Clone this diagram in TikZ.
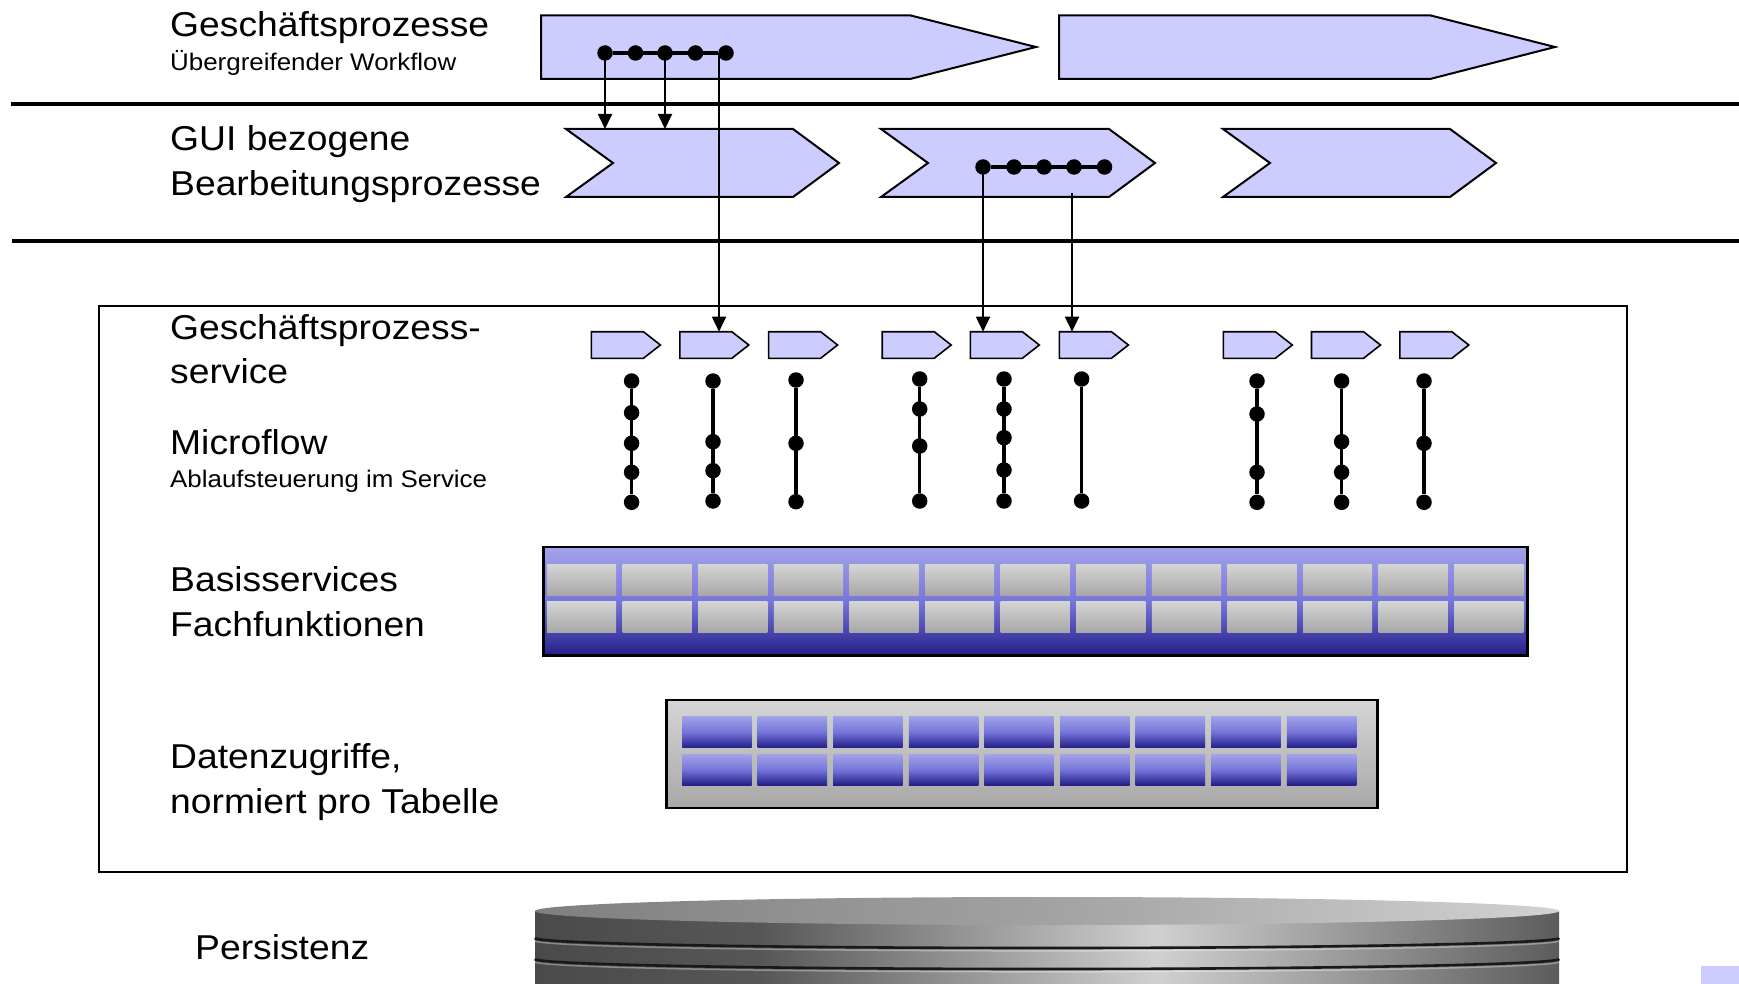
\documentclass[tikz,border=0pt]{standalone}
\usepackage{fontspec}
\newfontfamily\labelfont[FakeStretch=1.08]{Liberation Sans}
\usetikzlibrary{arrows.meta}

\definecolor{procfill}{HTML}{CCCCFF}
\definecolor{bsTop}{HTML}{A3A3E9}
\definecolor{bsMid}{HTML}{7676DA}
\definecolor{bsBot}{HTML}{231E88}
\definecolor{grTop}{HTML}{D5D5D5}
\definecolor{grBot}{HTML}{A8A8A8}
\definecolor{diskA}{HTML}{4A4A4A}
\definecolor{diskB}{HTML}{575757}
\definecolor{diskC}{HTML}{D0D0D0}
\definecolor{diskD}{HTML}{5C5C5C}
\definecolor{faceL}{HTML}{7F7F7F}
\definecolor{faceM}{HTML}{A2A2A2}
\definecolor{faceR}{HTML}{D2D2D2}

\begin{document}
\begin{tikzpicture}[x=1pt,y=-1pt,
  biglabel/.style={font=\labelfont\fontsize{34.5}{40}\selectfont, anchor=base west, inner sep=0pt},
  smalllabel/.style={font=\labelfont\fontsize{24}{28}\selectfont, anchor=base west, inner sep=0pt},
  proc/.style={draw=black, line width=2pt, fill=procfill, line join=miter},
  svc/.style={draw=black, line width=1.6pt, fill=procfill, line join=miter},
  dot/.style={circle, fill=black, inner sep=0pt, minimum size=15.5pt},
  chainline/.style={line width=3.5pt},
  link/.style={line width=1.8pt, -{Triangle[width=14pt,length=15pt]}},
  layerline/.style={line width=4pt},
  bluebox/.style={draw=black, line width=2.5pt, top color=bsTop, bottom color=bsBot, middle color=bsMid},
  graybox/.style={draw=black, line width=2.5pt, top color=grTop, bottom color=grBot},
  graycell/.style={top color=grTop, bottom color=grBot},
  bluecell/.style={top color=bsTop, bottom color=bsBot, middle color=bsMid}
]
\useasboundingbox (0,0) rectangle (1739,984);
\clip (0,0) rectangle (1739,984);
\fill[white] (0,0) rectangle (1739,984);

% small corner tile
\fill[procfill] (1701,966) rectangle (1739,984);

% persistence disk stack
\path[left color=diskA, right color=diskB] (535,911) rectangle (762,992);
\path[left color=diskB, right color=diskC] (761,911) rectangle (1157,992);
\path[left color=diskC, right color=diskD] (1156,911) rectangle (1559,992);
\foreach \yy in {938,959} {
  \draw[white, opacity=0.35, line width=1.5pt]
    plot[domain=180:360, samples=90, smooth] ({1047+512*cos(\x)}, {\yy+2.8-10*sin(\x)});
  \draw[black!90, line width=2.6pt]
    plot[domain=180:360, samples=90, smooth] ({1047+512*cos(\x)}, {\yy-10*sin(\x)});
}
\path[left color=faceL, right color=faceR, middle color=faceM]
  (1047,911) ellipse [x radius=512pt, y radius=14pt];

% service layer frame
\draw[line width=2pt] (99,306) rectangle (1627,872);

% layer separators
\draw[layerline] (11,104) -- (1739,104);
\draw[layerline] (12,241) -- (1739,241);

% business processes
\draw[proc] (541,15.3) -- (910,15.3) -- (1036,47) -- (910,79) -- (541,79) -- cycle;
\draw[proc] (1059,15.3) -- (1430,15.3) -- (1555,47) -- (1430,79) -- (1059,79) -- cycle;

% GUI processes
\draw[proc] (566,129) -- (793,129) -- (839,163) -- (793,197) -- (566,197) -- (613,163) -- cycle;
\draw[proc] (881,129) -- (1109,129) -- (1155,163) -- (1109,197) -- (881,197) -- (928,163) -- cycle;
\draw[proc] (1223,129) -- (1450,129) -- (1496,163) -- (1450,197) -- (1223,197) -- (1270,163) -- cycle;
\coordinate (g1) at (0,129);

% business process services
\foreach \n/\sx in {1/591.4, 2/679.8, 3/768.6, 4/882.2, 5/970.3, 6/1059.4, 7/1223.3, 8/1311.5, 9/1399.8} {
  \draw[svc] (\sx,331.7) -- ++(52,0) -- ++(17,13.3) -- ++(-17,13.3) -- ++(-52,0) -- cycle;
  \coordinate (s\n) at (\sx,331.7);
}

% workflow steps
\foreach \xx [count=\i] in {605,635.5,665,695.5,726}
  \node[dot] (p\i) at (\xx,53) {};
\draw[chainline] (p1) -- (p5);
\foreach \xx [count=\i] in {983,1014,1044,1074,1104.5}
  \node[dot] (c\i) at (\xx,167) {};
\draw[chainline] (c1) -- (c5);
\coordinate (p5l) at (719,53);
\coordinate (c4low) at (1072,193);

% microflows
\foreach \y [count=\i] in {381,412.7,443.3,472.3,502.3} \node[dot] (ma\i) at (631.6,\y) {};
\draw[chainline] (ma1) -- (ma5);
\foreach \y [count=\i] in {381,441.7,470.7,501} \node[dot] (mb\i) at (713,\y) {};
\draw[chainline] (mb1) -- (mb4);
\foreach \y [count=\i] in {380,443.3,501.7} \node[dot] (mc\i) at (796,\y) {};
\draw[chainline] (mc1) -- (mc3);
\foreach \y [count=\i] in {379,409,446,501} \node[dot] (md\i) at (919.7,\y) {};
\draw[chainline] (md1) -- (md4);
\foreach \y [count=\i] in {379,409,437.7,470,501} \node[dot] (me\i) at (1004,\y) {};
\draw[chainline] (me1) -- (me5);
\foreach \y [count=\i] in {379,501} \node[dot] (mf\i) at (1081.6,\y) {};
\draw[chainline] (mf1) -- (mf2);
\foreach \y [count=\i] in {381,414,472.3,502.3} \node[dot] (mg\i) at (1257,\y) {};
\draw[chainline] (mg1) -- (mg4);
\foreach \y [count=\i] in {381,441.7,472.3,502.3} \node[dot] (mh\i) at (1341.6,\y) {};
\draw[chainline] (mh1) -- (mh4);
\foreach \y [count=\i] in {381,443.3,502.3} \node[dot] (mi\i) at (1424,\y) {};
\draw[chainline] (mi1) -- (mi3);

% calls between the layers
\draw[link] (p1.center) -- (p1 |- g1);
\draw[link] (p3.center) -- (p3 |- g1);
\draw[link] (p5l) -- (p5l |- s2);
\draw[link] (c1.center) -- (c1 |- s5);
\draw[link] (c4low) -- (c4low |- s6);

% basic services
\draw[bluebox] (543.4,547) rectangle (1527.5,655.5);
\foreach \k in {0,...,12} {
  \path[graycell] (547+75.6*\k,564) rectangle ++(69.2,31);
  \path[graycell] (547+75.6*\k,601) rectangle ++(69.2,31);
}

% data access
\draw[graybox] (666.6,700) rectangle (1377.5,808);
\foreach \k in {0,...,8} {
  \path[bluecell] (682+75.6*\k,716) rectangle ++(69.5,31.7);
  \path[bluecell] (682+75.6*\k,754) rectangle ++(69.5,31);
}

% layer names
\node[biglabel] (t1) at (170,37) {Geschäftsprozesse};
\node[smalllabel] (t1b) at (170,71) {Übergreifender Workflow};
\node[biglabel] (t2) at (170,151) {GUI bezogene};
\node[biglabel] (t2b) at (170,196) {Bearbeitungsprozesse};
\node[biglabel] (t3) at (170,339) {Geschäftsprozess-};
\node[biglabel] (t3b) at (170,383) {service};
\node[biglabel] (t4) at (170,454) {Microflow};
\node[smalllabel] (t4b) at (170,487.5) {Ablaufsteuerung im Service};
\node[biglabel] (t5) at (170,591) {Basisservices};
\node[biglabel] (t5b) at (170,636.5) {Fachfunktionen};
\node[biglabel] (t6) at (170,768) {Datenzugriffe,};
\node[biglabel] (t6b) at (170,813) {normiert pro Tabelle};
\node[biglabel] (t7) at (195,959) {Persistenz};
\end{tikzpicture}
\end{document}
